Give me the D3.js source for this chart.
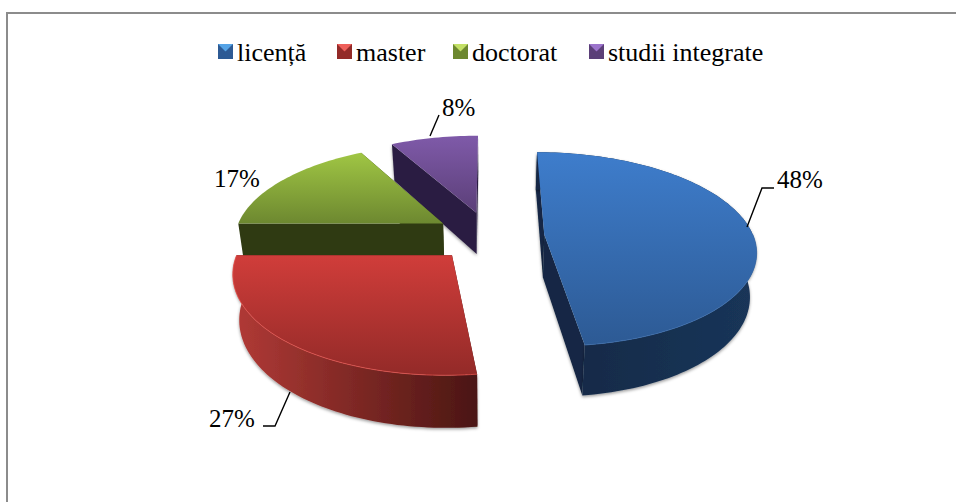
<!DOCTYPE html>
<html><head><meta charset="utf-8">
<script src="https://cdn.jsdelivr.net/npm/d3@7"></script>
<style>html,body{margin:0;padding:0;background:#fff}svg{display:block}text{font-family:"Liberation Serif",serif;fill:#000}</style>
</head><body><div id="c"></div>
<script>
const categories=["licență","master","doctorat","studii integrate"];
const values=[48,27,17,8];
const labels=["48%","27%","17%","8%"];
const topColors=[["#3e7dcc","#2d5a94"],["#d03d3a","#932a28"],["#a0c644","#6d8830"],["#7f5aa9","#5b3f78"]];
const iconLight=["#55a3e6","#ee5f5a","#c3e066","#9c74cc"];
const wallDark=["#132844","#4a1613","#2f3a12","#2b1e42"];
const wallLight=["#1a3559","#b23a36","#2f3a12","#2b1e42"];
const legendX=[218,337,453,589];
const labelAnchors=[[777,188],[209,427],[214,187],[442,116]];
const leaderPaths=[[[747,227],[762,188],[774,188]],[[290,392],[275,426],[263,426]],[],[[439,115],[430,136]]];

const W=956,H=502;
const svg=d3.select("#c").append("svg").attr("width",W).attr("height",H);
const defs=svg.append("defs");

// frame
svg.append("path").attr("d",`M7,${H} V13 H${W}`).attr("fill","none").attr("stroke","#8c8c8c").attr("stroke-width",2);

// perspective ground-plane projection
const R=209,explode=55,height=43,vx=489.5,yh=-390,B=626,d0=1375;
function proj(u,v,z){const s=d0/(d0+v);const k=1-0.025*z;return [vx+u*s*k,yh+B*s+z*height*s];}

const pie=d3.pie().sort(null).value(d=>d)(values);
const pt=(sl,a,r,z)=>{const m=(sl.startAngle+sl.endAngle)/2;
  const u=explode*Math.sin(m)+r*Math.sin(a),v=explode*Math.cos(m)+r*Math.cos(a);return proj(u,v,z);};
const line=d3.line();
const arcPts=(sl,a0,a1,z)=>{const n=Math.max(8,Math.round(Math.abs(a1-a0)*40));return d3.range(n+1).map(i=>pt(sl,a0+(a1-a0)*i/n,R,z));};

const shadow=defs.append("filter").attr("id","sh").attr("x","-10%").attr("y","-10%").attr("width","120%").attr("height","120%");
shadow.append("feDropShadow").attr("dx",0).attr("dy",1.5).attr("stdDeviation",1.5).attr("flood-color","#000").attr("flood-opacity",0.4);

pie.forEach((s,i)=>{
  const g=defs.append("linearGradient").attr("id","top"+i).attr("x1",0).attr("y1",0).attr("x2",0).attr("y2",1);
  g.append("stop").attr("offset",0).attr("stop-color",topColors[i][0]);
  g.append("stop").attr("offset",1).attr("stop-color",topColors[i][1]);
  const w=defs.append("linearGradient").attr("id","wall"+i).attr("x1",0).attr("y1",0).attr("x2",1).attr("y2",0);
  w.append("stop").attr("offset",0).attr("stop-color",i==0?wallDark[i]:wallLight[i]);
  w.append("stop").attr("offset",1).attr("stop-color",i==0?wallLight[i]:wallDark[i]);
});

// draw back to front
[3,2,0,1].forEach(i=>{
  const s=pie[i],g=svg.append("g");
  const a0=s.startAngle,a1=s.endAngle;
  const c0=pt(s,0,0,0),c1=pt(s,0,0,1);
  [a0,a1].forEach(a=>{
    const p0=pt(s,a,R,0),p1=pt(s,a,R,1);
    g.append("path").attr("d",line([c0,p0,p1,c1])+"Z").attr("fill",wallDark[i]).attr("filter",i===3||i===0?"url(#sh)":null);
  });
  const top=arcPts(s,a0,a1,0),bot=arcPts(s,a0,a1,1).reverse();
  if(i<2){
    g.append("path").attr("d",line(top.concat(bot))+"Z").attr("fill",`url(#wall${i})`).attr("filter","url(#sh)");
  }
  g.append("path").attr("d",line([c0].concat(top))+"Z").attr("fill",`url(#top${i})`);
  if(i<2){
    g.append("path").attr("d",line(arcPts(s,Math.max(a0,Math.PI/2),a1,0))).attr("fill","none")
     .attr("stroke",i===1?"#e2534d":"#3a6cab").attr("stroke-width",1).attr("stroke-opacity",.8);
  }
});

// leaders & data labels
leaderPaths.forEach(p=>{ if(p.length) svg.append("path").attr("d",line(p)).attr("fill","none").attr("stroke","#000").attr("stroke-width",1.4); });
labels.forEach((t,i)=>svg.append("text").attr("x",labelAnchors[i][0]).attr("y",labelAnchors[i][1]).attr("font-size",25).text(t));

// legend
categories.forEach((c,i)=>{
  const g=svg.append("g").attr("transform",`translate(${legendX[i]},44)`);
  const sz=15;
  g.append("rect").attr("width",sz).attr("height",sz).attr("fill",topColors[i][1]);
  g.append("path").attr("d",`M0,0H${sz}L${sz/2},${sz/2}Z`).attr("fill",iconLight[i]);
  g.append("path").attr("d",`M0,${sz}H${sz}L${sz/2},${sz/2}Z`).attr("fill",topColors[i][1]).attr("opacity",.85);
  g.append("text").attr("x",sz+4).attr("y",16.5).attr("font-size",26).text(c);
});
</script></body></html>
